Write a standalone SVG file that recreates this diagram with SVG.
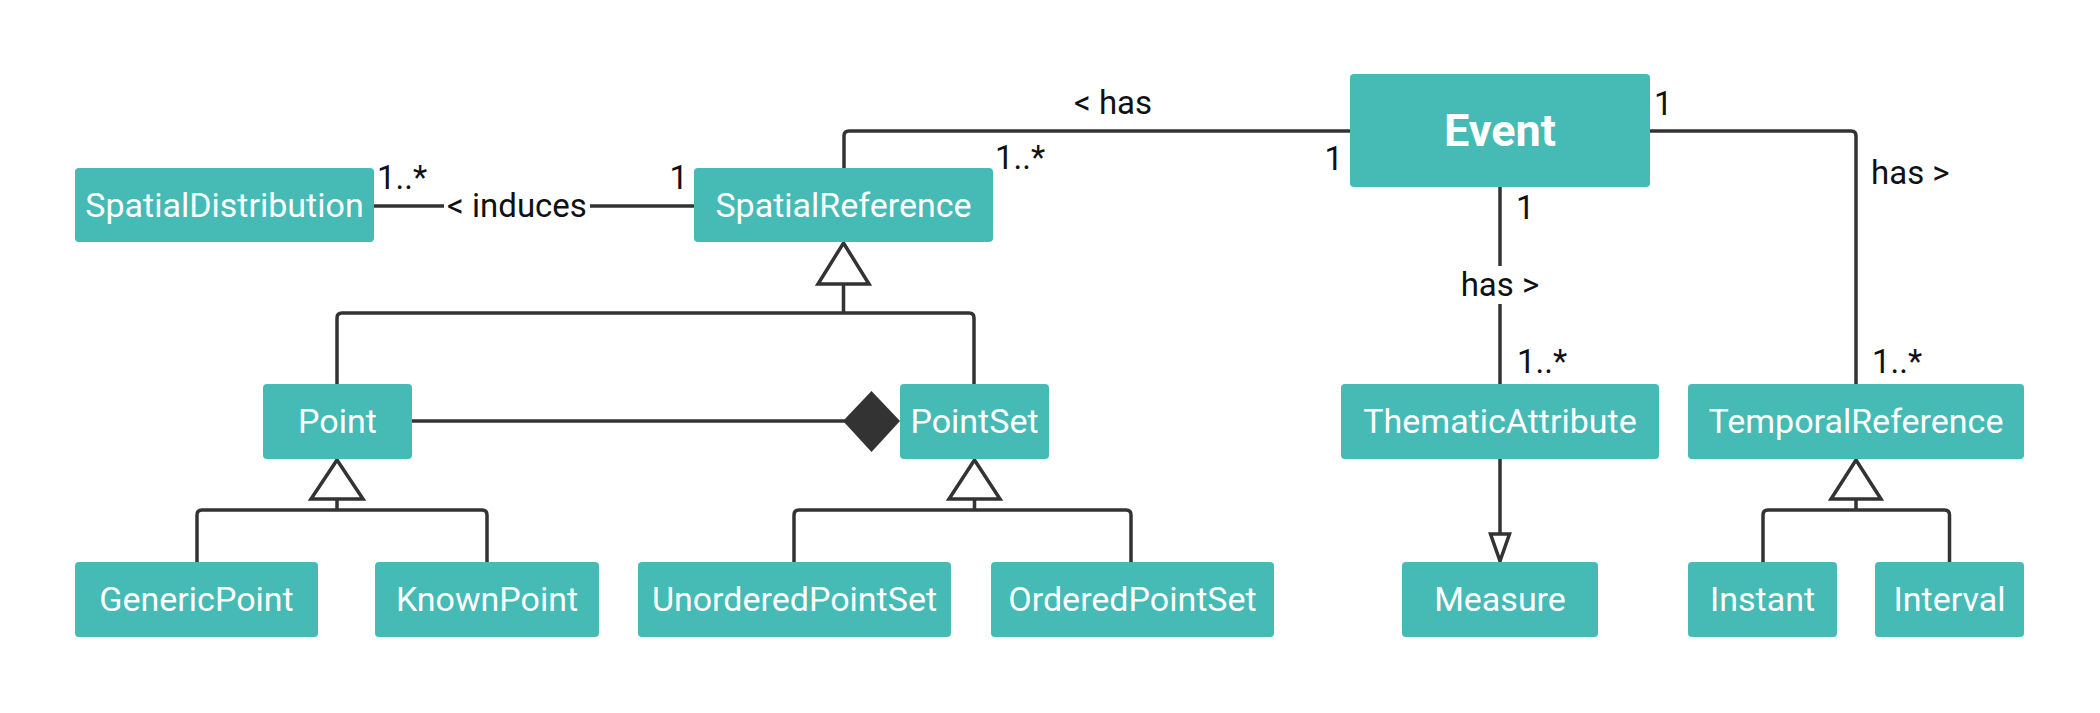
<svg xmlns="http://www.w3.org/2000/svg" width="2100" height="713" viewBox="0 0 2100 713">
<style>
.n{fill:#46bab5}
.t{fill:#fff;font-family:Roboto,"Liberation Sans",sans-serif;font-size:34px;text-anchor:middle}
.b{font-weight:bold;font-size:45px}
.l{fill:#111;font-family:Roboto,"Liberation Sans",sans-serif;font-size:33px}
.e{stroke:#333;stroke-width:3.5;fill:none;stroke-linejoin:round}
.g{stroke:#333;stroke-width:3.5;fill:#fff;stroke-linejoin:miter}
</style>
<rect width="2100" height="713" fill="#fff"/>
<g id="connectors">
<path class="e" d="M374 206H694"/>
<rect x="444" y="186" width="146" height="40" fill="#fff"/>
<text class="l" x="517" y="217" text-anchor="middle">&lt; induces</text>
<text class="l" x="377" y="189">1..*</text>
<text class="l" x="688" y="189" text-anchor="end">1</text>
<path class="e" d="M844 168V136Q844 131 849 131H1350"/>
<text class="l" x="1113" y="114" text-anchor="middle">&lt; has</text>
<text class="l" x="995" y="169">1..*</text>
<text class="l" x="1343" y="170" text-anchor="end">1</text>
<path class="e" d="M1650 131H1851Q1856 131 1856 136V384"/>
<text class="l" x="1654" y="115">1</text>
<text class="l" x="1871" y="184">has &gt;</text>
<text class="l" x="1872" y="373">1..*</text>
<path class="e" d="M1500 187V384"/>
<rect x="1456" y="266" width="88" height="38" fill="#fff"/>
<text class="l" x="1500" y="296" text-anchor="middle">has &gt;</text>
<text class="l" x="1516" y="219">1</text>
<text class="l" x="1517" y="373">1..*</text>
<path class="e" d="M843.5 284V313M337 384V318Q337 313 342 313H969Q974 313 974 318V384"/>
<path class="g" d="M843.5 243L869 284H818Z"/>
<path class="e" d="M412 421H845"/>
<path d="M843 421L871.5 391L900 421L871.5 452Z" fill="#333"/>
<path class="e" d="M337 499V510M197 562V515Q197 510 202 510H482Q487 510 487 515V562"/>
<path class="g" d="M337 460L363 499H311Z"/>
<path class="e" d="M974.5 499V510M794 562V515Q794 510 799 510H1126Q1131 510 1131 515V562"/>
<path class="g" d="M974.5 460L1000 499H949Z"/>
<path class="e" d="M1856 499V510M1763 562V515Q1763 510 1768 510H1944.5Q1949.5 510 1949.5 515V562"/>
<path class="g" d="M1856 460L1881 499H1831Z"/>
<path class="e" d="M1500 459V534"/>
<path class="g" d="M1490.5 534H1509.5L1500 561Z"/>
</g>
<g id="SpatialDistribution"><rect class="n" x="75" y="168" width="299" height="74" rx="4"/><text class="t" x="224.5" y="217">SpatialDistribution</text></g>
<g id="SpatialReference"><rect class="n" x="694" y="168" width="299" height="74" rx="4"/><text class="t" x="843.5" y="217">SpatialReference</text></g>
<g id="Event"><rect class="n" x="1350" y="74" width="300" height="113" rx="4"/><text class="t b" x="1500" y="146">Event</text></g>
<g id="Point"><rect class="n" x="263" y="384" width="149" height="75" rx="4"/><text class="t" x="337.5" y="433">Point</text></g>
<g id="PointSet"><rect class="n" x="900" y="384" width="149" height="75" rx="4"/><text class="t" x="974.5" y="433">PointSet</text></g>
<g id="ThematicAttribute"><rect class="n" x="1341" y="384" width="318" height="75" rx="4"/><text class="t" x="1500" y="433">ThematicAttribute</text></g>
<g id="TemporalReference"><rect class="n" x="1688" y="384" width="336" height="75" rx="4"/><text class="t" x="1856" y="433">TemporalReference</text></g>
<g id="GenericPoint"><rect class="n" x="75" y="562" width="243" height="75" rx="4"/><text class="t" x="196.5" y="611">GenericPoint</text></g>
<g id="KnownPoint"><rect class="n" x="375" y="562" width="224" height="75" rx="4"/><text class="t" x="487" y="611">KnownPoint</text></g>
<g id="UnorderedPointSet"><rect class="n" x="638" y="562" width="313" height="75" rx="4"/><text class="t" x="794.5" y="611">UnorderedPointSet</text></g>
<g id="OrderedPointSet"><rect class="n" x="991" y="562" width="283" height="75" rx="4"/><text class="t" x="1132.5" y="611">OrderedPointSet</text></g>
<g id="Measure"><rect class="n" x="1402" y="562" width="196" height="75" rx="4"/><text class="t" x="1500" y="611">Measure</text></g>
<g id="Instant"><rect class="n" x="1688" y="562" width="149" height="75" rx="4"/><text class="t" x="1762.5" y="611">Instant</text></g>
<g id="Interval"><rect class="n" x="1875" y="562" width="149" height="75" rx="4"/><text class="t" x="1949.5" y="611">Interval</text></g>
</svg>
